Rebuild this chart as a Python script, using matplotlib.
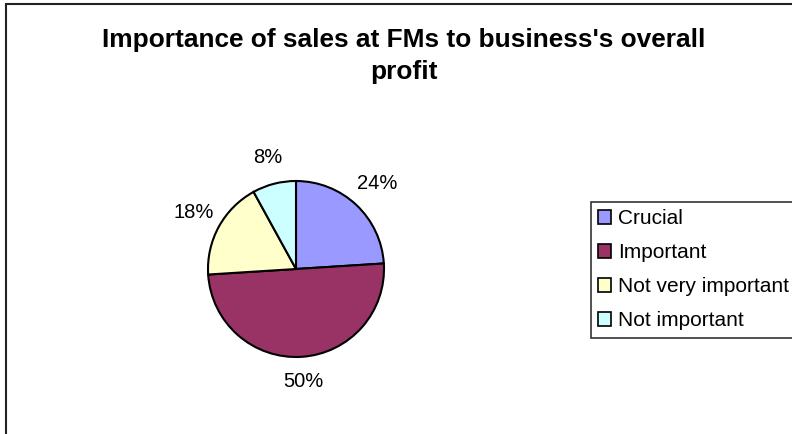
import matplotlib
matplotlib.use("Agg")
import numpy as np
import matplotlib.pyplot as plt
from matplotlib.patches import Rectangle

plt.rcParams['font.family'] = ['Liberation Sans', 'DejaVu Sans']

# data
labels = ["Crucial", "Important", "Not very important", "Not important"]
shares = [24, 50, 18, 8]
colors = ["#9999FF", "#993366", "#FFFFCC", "#CCFFFF"]

W, H = 792, 434
fig = plt.figure(figsize=(W / 100, H / 100), dpi=100)

# chart-area border (only top and left visible in the crop)
fig.patches.append(Rectangle((5.5 / W, -0.1), 1.2, (H - 4) / H + 0.1, transform=fig.transFigure,
                             fill=False, edgecolor="#222222", lw=1.5))

# pie axes: centre (296, 269) px, radius 88 px
r = 88
size = 3 * r
cx, cy = 296, H - 269
ax = fig.add_axes([(cx - size / 2) / W, (cy - size / 2) / H, size / W, size / H])
wedges, texts = ax.pie(shares, colors=colors, startangle=90, counterclock=False,
                       wedgeprops=dict(edgecolor="black", linewidth=1.5))
ax.set_xlim(-1.5, 1.5); ax.set_ylim(-1.5, 1.5); ax.set_aspect("equal")
ax.axis("off")

# percentage labels outside the pie
for w, s in zip(wedges, shares):
    mid = np.deg2rad((w.theta1 + w.theta2) / 2)
    d = 1.27 + 0.07 * abs(np.sin(2 * mid))
    ax.text(d * np.cos(mid), d * np.sin(mid), f"{s}%", ha="center", va="center",
            fontsize=14.5, color="black")

fig.text(404 / W, 1 - 56 / H, "Importance of sales at FMs to business's overall\nprofit",
         ha="center", va="center", fontsize=18.9, fontweight="bold", linespacing=1.45)

leg = fig.legend(wedges, labels, loc="upper left", bbox_to_anchor=(591 / W, 1 - 202 / H),
                 fontsize=15, frameon=True, fancybox=False, edgecolor="black",
                 handlelength=0.6, handleheight=0.6, handletextpad=0.35,
                 labelspacing=0.72, borderpad=0.35, borderaxespad=0)
leg.get_frame().set_linewidth(1.2)
for h in leg.legend_handles:
    h.set_linewidth(1.2)

fig.savefig("out.png", dpi=100, facecolor="white")
